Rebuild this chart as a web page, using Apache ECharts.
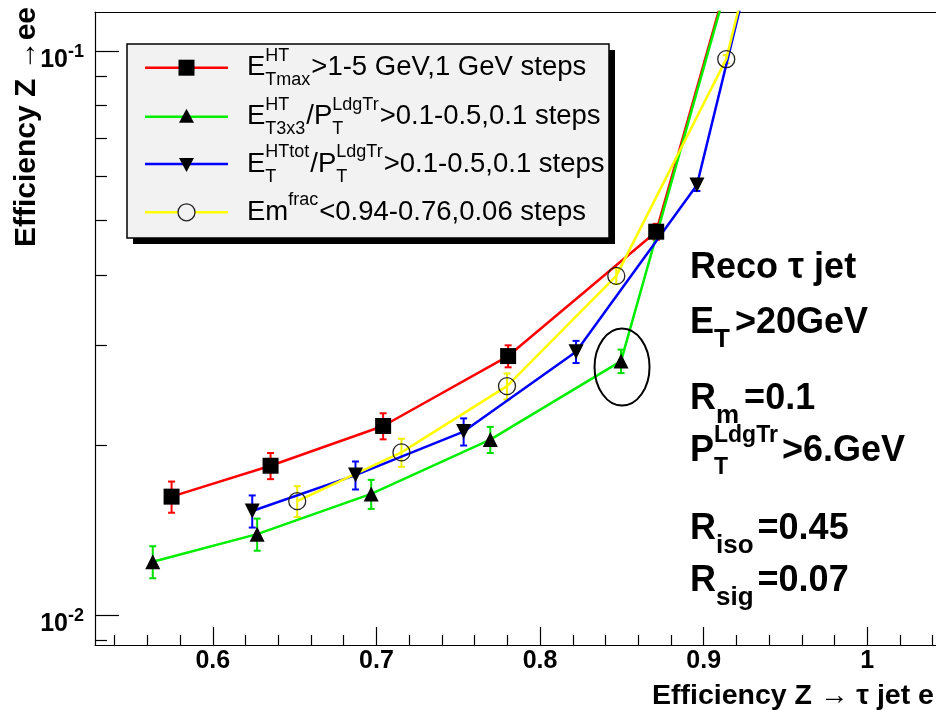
<!DOCTYPE html>
<html><head><meta charset="utf-8">
<script src="https://cdn.jsdelivr.net/npm/echarts@6/dist/echarts.min.js"></script>
<style>html,body{margin:0;padding:0;background:#fff}#c{width:936px;height:710px}</style>
</head><body><div id="c"></div>
<script>
// ---- data ----
const redX   = [0.5748, 0.6353, 0.7041, 0.7805, 0.8710, 1.0];
const redY   = [0.01620, 0.01838, 0.02162, 0.02876, 0.04779, 1.0];
const redErr = [0.00103, 0.00098, 0.00115, 0.00129, 0.00156, 0];

const greenX   = [0.5633, 0.6271, 0.6968, 0.7696, 0.8495, 1.0];
const greenY   = [0.01242, 0.01390, 0.01638, 0.02045, 0.02818, 1.0];
const greenErr = [0.00081, 0.00091, 0.00097, 0.00109, 0.00135, 0];

const blueX   = [0.6241, 0.6872, 0.7533, 0.8220, 0.8959, 1.0];
const blueY   = [0.01528, 0.01769, 0.02113, 0.02928, 0.05785, 1.0];
const blueErr = [0.00100, 0.00101, 0.00117, 0.00132, 0.00142, 0];

const yellowX   = [0.6516, 0.7153, 0.7798, 0.8466, 0.9138, 1.0];
const yellowY   = [0.01591, 0.01941, 0.02544, 0.03990, 0.09667, 1.0];
const yellowErr = [0.00100, 0.00111, 0.00135, 0.00130, 0.00158, 0];

const xMajorTicks = [0.6, 0.7, 0.8, 0.9, 1.0];
const xMinorTicks = [0.54, 0.56, 0.58, 0.62, 0.64, 0.66, 0.68, 0.72, 0.74, 0.76, 0.78,
                     0.82, 0.84, 0.86, 0.88, 0.92, 0.94, 0.96, 0.98, 1.02, 1.04];
const yMajorTicks = [0.01, 0.1];
const yMinorTicks = [0.009, 0.02, 0.03, 0.04, 0.05, 0.06, 0.07, 0.08, 0.09];

const legendNames = ['Tmax', 'T3x3', 'HTtot', 'Emfrac'];

// ---- helpers ----
const FF = '"Liberation Sans", Arial, Helvetica, sans-serif';
const mctx = document.createElement('canvas').getContext('2d');
function measure(t, size, weight) { mctx.font = weight + ' ' + size + 'px ' + FF; return mctx.measureText(t).width; }
function txt(x, y, t, size, weight) {
  return { type: 'text', x: x, y: y, silent: true, z: 100,
    style: { text: t, fill: '#000', fontSize: size, fontWeight: weight, fontFamily: FF, align: 'left', verticalAlign: 'middle' } };
}
function formula(x0, yc, parts, S, weight, subScale, gap) {
  const s = Math.round(S * (subScale || 0.64));
  const els = []; let x = x0;
  parts.forEach(p => {
    if (typeof p === 'string') { els.push(txt(x, yc, p, S, weight)); x += measure(p, S, weight); }
    else {
      let w = 0;
      if (p.sup) { els.push(txt(x, yc - S * 0.44, p.sup, s, weight)); w = Math.max(w, measure(p.sup, s, weight)); }
      if (p.sub) { els.push(txt(x, yc + S * 0.46, p.sub, s, weight)); w = Math.max(w, measure(p.sub, s, weight)); }
      x += w + (gap || 1);
    }
  });
  return els;
}
const pairs = (xs, ys) => xs.map((x, i) => [x, ys[i]]);
const triples = (xs, ys, es) => xs.map((x, i) => [x, ys[i], es[i]]);

function lineSeries(name, xs, ys, color, symbol, size, rotate, open) {
  return {
    name: name, type: 'line', data: pairs(xs, ys), clip: true, z: 3,
    symbol: symbol, symbolSize: size, symbolRotate: rotate || 0, showAllSymbol: true,
    lineStyle: { color: color, width: 2.5 },
    itemStyle: open ? { color: 'rgba(0,0,0,0)', borderColor: '#222', borderWidth: 1.3 } : { color: '#000', borderWidth: 0 },
    emphasis: { disabled: true }, animation: false
  };
}
function errSeries(xs, ys, es, color) {
  return {
    type: 'custom', data: triples(xs, ys, es), clip: true, z: 2, silent: true, animation: false,
    encode: { x: 0, y: 1 },
    renderItem: function (params, api) {
      const x = api.value(0), y = api.value(1), e = api.value(2);
      if (!e) return null;
      const c = api.coord([x, y]);
      const t = api.coord([x, y + e]);
      const b = api.coord([x, y - e]);
      const st = { stroke: color, lineWidth: 2 };
      return { type: 'group', children: [
        { type: 'line', shape: { x1: c[0], y1: t[1], x2: c[0], y2: b[1] }, style: st },
        { type: 'line', shape: { x1: c[0] - 3.5, y1: t[1], x2: c[0] + 3.5, y2: t[1] }, style: st },
        { type: 'line', shape: { x1: c[0] - 3.5, y1: b[1], x2: c[0] + 3.5, y2: b[1] }, style: st }
      ] };
    }
  };
}

const chart = echarts.init(document.getElementById('c'), null, { renderer: 'canvas' });
const axisLineStyle = { color: '#000', width: 1.2 };
const option = {
  backgroundColor: '#fff',
  animation: false,
  grid: { left: 95, right: 0, top: 12, bottom: 65, containLabel: false },
  xAxis: [
    { type: 'value', min: 0.528, max: 1.042, position: 'bottom',
      axisLine: { show: true, lineStyle: axisLineStyle },
      axisTick: { show: true, inside: true, length: 18, customValues: xMajorTicks, lineStyle: { color: '#000', width: 1.2 } },
      axisLabel: { show: true, customValues: xMajorTicks, margin: 4, color: '#000', fontSize: 25, fontWeight: 'bold', fontFamily: FF,
        formatter: v => String(+(+v).toFixed(2)) },
      splitLine: { show: false } },
    { type: 'value', min: 0.528, max: 1.042, position: 'bottom',
      axisLine: { show: false },
      axisTick: { show: true, inside: true, length: 10, customValues: xMinorTicks, lineStyle: { color: '#000', width: 1.2 } },
      axisLabel: { show: false }, splitLine: { show: false } },
    { type: 'value', min: 0.528, max: 1.042, position: 'top',
      axisLine: { show: true, lineStyle: axisLineStyle },
      axisTick: { show: false }, axisLabel: { show: false }, splitLine: { show: false } }
  ],
  yAxis: [
    { type: 'log', logBase: 10, min: 0.00884, max: 0.1172, position: 'left',
      axisLine: { show: true, lineStyle: axisLineStyle },
      axisTick: { show: true, inside: true, length: 24, customValues: yMajorTicks, lineStyle: { color: '#000', width: 1.2 } },
      axisLabel: { show: true, customValues: yMajorTicks, margin: 11, padding: [18, 0, 0, 0],
        formatter: v => '{b|10}{s|' + Math.round(Math.log10(v)) + '}',
        rich: { b: { fontSize: 25, fontWeight: 'bold', fontFamily: FF, color: '#000', lineHeight: 34 },
                s: { fontSize: 18, fontWeight: 'bold', fontFamily: FF, color: '#000', lineHeight: 17, verticalAlign: 'top' } } },
      splitLine: { show: false } },
    { type: 'log', logBase: 10, min: 0.00884, max: 0.1172, position: 'left',
      axisLine: { show: false },
      axisTick: { show: true, inside: true, length: 12, customValues: yMinorTicks, lineStyle: { color: '#000', width: 1.2 } },
      axisLabel: { show: false }, splitLine: { show: false } }
  ],
  series: [
    errSeries(redX, redY, redErr, '#ff0000'),
    errSeries(greenX, greenY, greenErr, '#00e000'),
    errSeries(blueX, blueY, blueErr, '#0000ff'),
    errSeries(yellowX, yellowY, yellowErr, '#f0f000'),
    lineSeries(legendNames[0], redX, redY, '#ff0000', 'rect', 16, 0, false),
    lineSeries(legendNames[1], greenX, greenY, '#00ee00', 'triangle', 15, 0, false),
    lineSeries(legendNames[2], blueX, blueY, '#0000ff', 'triangle', 15, 180, false),
    lineSeries(legendNames[3], yellowX, yellowY, '#ffff00', 'circle', 17, 0, true)
  ]
};
chart.setOption(option);

// ---- annotations: legend box, texts, ellipse ----
const g = [];
g.push({ type: 'rect', shape: { x: 133, y: 50, width: 482, height: 194 }, style: { fill: '#000' }, z: 90, silent: true });
g.push({ type: 'rect', shape: { x: 127, y: 44, width: 482, height: 194 }, style: { fill: '#f2f2f2', stroke: '#000', lineWidth: 1.5 }, z: 91, silent: true });
const rowY = [67.7, 116.7, 164, 212.3];
const rowColor = ['#ff0000', '#00ee00', '#0000ff', '#ffff00'];
rowY.forEach((y, i) => {
  g.push({ type: 'line', shape: { x1: 145, y1: y, x2: 228, y2: y }, style: { stroke: rowColor[i], lineWidth: 2.5 }, z: 92, silent: true });
});
const mx = 186.5;
g.push({ type: 'rect', shape: { x: mx - 8, y: rowY[0] - 8, width: 16, height: 16 }, style: { fill: '#000' }, z: 93, silent: true });
g.push({ type: 'polygon', shape: { points: [[mx, rowY[1] - 8], [mx - 7.5, rowY[1] + 6], [mx + 7.5, rowY[1] + 6]] }, style: { fill: '#000' }, z: 93, silent: true });
g.push({ type: 'polygon', shape: { points: [[mx, rowY[2] + 8], [mx - 7.5, rowY[2] - 6], [mx + 7.5, rowY[2] - 6]] }, style: { fill: '#000' }, z: 93, silent: true });
g.push({ type: 'circle', shape: { cx: mx, cy: rowY[3], r: 8.5 }, style: { fill: '#f2f2f2', stroke: '#222', lineWidth: 1.3 }, z: 93, silent: true });

const LS = 27.5, lx = 247;
g.push(...formula(lx, rowY[0], ['E', { sup: 'HT', sub: 'Tmax' }, '>1-5 GeV,1 GeV steps'], LS, 'normal'));
g.push(...formula(lx, rowY[1], ['E', { sup: 'HT', sub: 'T3x3' }, '/P', { sup: 'LdgTr', sub: 'T' }, '>0.1-0.5,0.1 steps'], LS, 'normal'));
g.push(...formula(lx, rowY[2], ['E', { sup: 'HTtot', sub: 'T' }, '/P', { sup: 'LdgTr', sub: 'T' }, '>0.1-0.5,0.1 steps'], LS, 'normal'));
g.push(...formula(lx, rowY[3], ['Em', { sup: 'frac' }, '<0.94-0.76,0.06 steps'], LS, 'normal'));

// right-hand cut summary
const RS = 36, rx = 690;
g.push(...formula(rx, 268, ['Reco \u03c4 jet'], RS, 'bold'));
g.push(...formula(rx, 323, ['E', { sub: 'T' }, '>20GeV'], RS, 'bold', 0.72, 5));
g.push(...formula(rx, 399, ['R', { sub: 'm' }, '=0.1'], RS, 'bold', 0.72, 5));
g.push(...formula(rx, 451, ['P', { sup: 'LdgTr', sub: 'T' }, '>6.GeV'], RS, 'bold', 0.64, 4));
g.push(...formula(rx, 529, ['R', { sub: 'iso' }, '=0.45'], RS, 'bold', 0.72, 4));
g.push(...formula(rx, 581, ['R', { sub: 'sig' }, '=0.07'], RS, 'bold', 0.72, 4));

// axis titles
g.push({ type: 'text', x: 652, y: 696, silent: true, z: 100,
  style: { text: 'Efficiency Z \u2192 \u03c4 jet e', fill: '#000', fontSize: 28.5, fontWeight: 'bold', fontFamily: FF, align: 'left', verticalAlign: 'middle' } });
g.push({ type: 'text', x: 27, y: 127, rotation: Math.PI / 2, silent: true, z: 100,
  style: { text: 'Efficiency Z \u2192ee', fill: '#000', fontSize: 30, fontWeight: 'bold', fontFamily: FF, align: 'center', verticalAlign: 'middle' } });

// ellipse around the last green cut point
const ec = chart.convertToPixel({ xAxisIndex: 0, yAxisIndex: 0 }, [greenX[4], greenY[4]]);
g.push({ type: 'ellipse', shape: { cx: ec[0] + 1, cy: ec[1] + 6, rx: 27.5, ry: 38.5 }, style: { fill: 'none', stroke: '#000', lineWidth: 2 }, z: 95, silent: true });

chart.setOption({ graphic: { elements: g } });
</script>
</body></html>
